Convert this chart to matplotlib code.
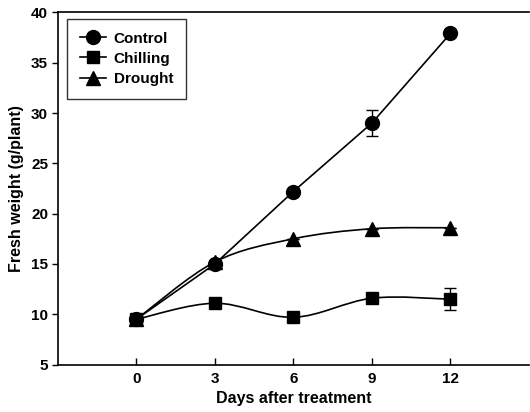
import matplotlib.pyplot as plt
from matplotlib.path import Path
from matplotlib.patches import PathPatch
import numpy as np

plt.rcParams['font.family'] = ['Liberation Sans', 'DejaVu Sans']
plt.rcParams['font.weight'] = 'bold'

days = [0, 3, 6, 9, 12]
control = [9.5, 15.0, 22.2, 29.0, 37.9]
control_err = [0, 0, 0, 1.3, 0]
chilling = [9.5, 11.1, 9.7, 11.6, 11.5]
chilling_err = [0, 0, 0, 0, 1.1]
drought = [9.5, 15.2, 17.5, 18.5, 18.6]
drought_err = [0, 0, 0, 0, 0]


def smooth_path(x, y):
    # Catmull-Rom through the points, drawn as cubic bezier segments
    x = np.asarray(x, float)
    y = np.asarray(y, float)
    pts = np.column_stack([x, y])
    verts = [pts[0]]
    codes = [Path.MOVETO]
    n = len(pts)
    for i in range(n - 1):
        p0 = pts[i - 1] if i > 0 else pts[i]
        p1, p2 = pts[i], pts[i + 1]
        p3 = pts[i + 2] if i + 2 < n else pts[i + 1]
        c1 = p1 + (p2 - p0) / 6
        c2 = p2 - (p3 - p1) / 6
        verts += [c1, c2, p2]
        codes += [Path.CURVE4] * 3
    return Path(verts, codes)


fig = plt.figure(figsize=(5.3, 4.12), dpi=100)
ax = fig.add_axes([0.109, 0.115, 0.889, 0.855])

ax.plot(days, control, color='black', lw=1.2, marker='o', ms=10,
        label='Control', zorder=3)
ax.errorbar(days, control, yerr=control_err, fmt='none', ecolor='black',
            elinewidth=1, capsize=4, capthick=1, zorder=2)

for vals, errs, mk, ms, lab in [(chilling, chilling_err, 's', 9, 'Chilling'),
                                (drought, drought_err, '^', 9.5, 'Drought')]:
    ax.add_patch(PathPatch(smooth_path(days, vals), fill=False,
                           edgecolor='black', lw=1.2, zorder=2))
    ax.plot(days, vals, color='black', lw=1.2, ls='none', marker=mk, ms=ms,
            zorder=3)
    ax.plot([], [], color='black', lw=1.2, marker=mk, ms=ms, label=lab)
    ax.errorbar(days, vals, yerr=errs, fmt='none', ecolor='black',
                elinewidth=1, capsize=4, capthick=1, zorder=2)

ax.set_xlim(-3, 15)
ax.set_ylim(5, 40)
ax.set_xticks(days)
ax.set_yticks(np.arange(5, 41, 5))
ax.tick_params(axis='y', direction='out', length=4, labelsize=11, width=1, pad=3)
ax.tick_params(axis='x', direction='in', length=5, labelsize=11, width=1, pad=5)
ax.spines['right'].set_visible(False)
for s in ['left', 'bottom', 'top']:
    ax.spines[s].set_linewidth(1.2)

ax.set_xlabel('Days after treatment', fontsize=11.5, fontweight='bold', labelpad=4)
ax.set_ylabel('Fresh weight (g/plant)', fontsize=11.5, fontweight='bold', labelpad=5)

leg = ax.legend(loc='upper left', fontsize=11, frameon=True, fancybox=False,
                edgecolor='black', borderpad=0.85, handlelength=1.7,
                handletextpad=0.5, labelspacing=0.4, borderaxespad=0,
                bbox_to_anchor=(0.02, 0.982))
leg.get_frame().set_linewidth(1.0)
for t in leg.get_texts():
    t.set_fontweight('bold')

fig.savefig('out.png', dpi=100)
